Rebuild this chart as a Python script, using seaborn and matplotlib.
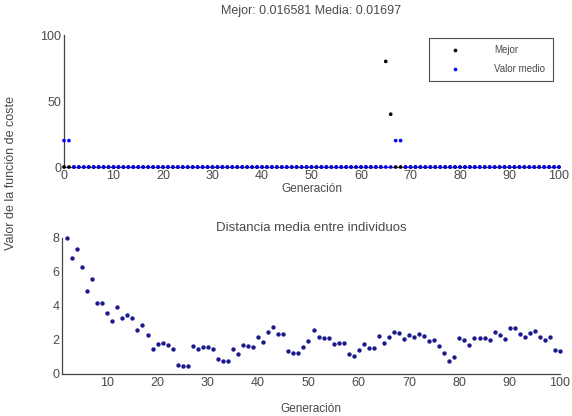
import numpy as np
import pandas as pd
import matplotlib
matplotlib.use("Agg")
import matplotlib.pyplot as plt
import seaborn as sns

# ---- data ----
gen_top = list(range(0, 101))
mejor = [0.0] * 101
mejor[65] = 80.0
mejor[66] = 40.0
valor_medio = [0.0] * 101
valor_medio[0] = 20.0
valor_medio[1] = 20.0
valor_medio[67] = 20.0
valor_medio[68] = 20.0

gen_dist = list(range(2, 101))
distancia = [8.0, 6.84, 7.33, 6.3, 4.9, 5.6, 4.17, 4.17, 3.6, 3.1,
             3.95, 3.28, 3.46, 3.28, 2.57, 2.88, 2.29, 1.48, 1.78, 1.8,
             1.7, 1.48, 0.55, 0.47, 0.47, 1.62, 1.48, 1.58, 1.58, 1.46,
             0.87, 0.75, 0.79, 1.48, 1.19, 1.7, 1.66, 1.58, 2.2, 1.9,
             2.47, 2.77, 2.37, 2.37, 1.34, 1.25, 1.25, 1.6, 1.94, 2.57,
             2.2, 2.13, 2.13, 1.78, 1.82, 1.82, 1.15, 1.03, 1.44, 1.74,
             1.54, 1.54, 2.23, 1.84, 2.17, 2.49, 2.41, 2.07, 2.27, 2.17,
             2.37, 2.25, 1.94, 1.98, 1.64, 1.23, 0.79, 0.99, 2.13, 2.0,
             1.7, 2.13, 2.13, 2.13, 1.98, 2.47, 2.27, 2.06, 2.69, 2.69,
             2.37, 2.17, 2.41, 2.53, 2.17, 1.98, 2.17, 1.44, 1.38]

title_top = "Mejor: 0.016581 Media: 0.01697"
title_bottom = "Distancia media entre individuos"
xlabel = "Generación"
ylabel = "Valor de la función de coste"
series_names = ["Mejor", "Valor medio"]
series_colors = {"Mejor": "black", "Valor medio": "blue"}

df_top = pd.concat([
    pd.DataFrame({"gen": gen_top, "valor": mejor, "serie": "Mejor"}),
    pd.DataFrame({"gen": gen_top, "valor": valor_medio, "serie": "Valor medio"}),
], ignore_index=True)
df_dist = pd.DataFrame({"gen": gen_dist, "dist": distancia})

sns.set_theme(style="white")
plt.rcParams["font.family"] = ["Liberation Sans", "DejaVu Sans"]
txt = "#4a4a4a"

fig = plt.figure(figsize=(5.72, 4.16), dpi=100)
ax1 = fig.add_axes([64 / 572, 1 - 167 / 416, 495 / 572, 132 / 416])
ax2 = fig.add_axes([62 / 572, 1 - 374 / 416, 498 / 572, 136 / 416])

sns.scatterplot(data=df_top, x="gen", y="valor", hue="serie", hue_order=series_names,
                palette=series_colors, marker="o", s=7, linewidth=0, ax=ax1, zorder=3)
sns.scatterplot(data=df_dist, x="gen", y="dist", color="#1a1a8c", marker="o", s=10,
                linewidth=0, ax=ax2, zorder=3)

for ax in (ax1, ax2):
    for side in ("top", "right"):
        ax.spines[side].set_visible(False)
    for side in ("left", "bottom"):
        ax.spines[side].set_color("#444444")
        ax.spines[side].set_linewidth(0.9)
    ax.tick_params(direction="in", length=3, width=0.8, colors="#444444",
                   labelcolor=txt, labelsize=9, pad=2)
    ax.set_ylabel("")
    ax.set_facecolor("white")

ax1.set_xlabel(xlabel, fontsize=8.5, color=txt, labelpad=1)
ax2.set_xlabel(xlabel, fontsize=8.5, color=txt, labelpad=10)

ax1.set_xlim(0, 100)
ax1.set_ylim(0, 100)
ax1.set_xticks(range(0, 101, 10))
ax1.set_yticks([0, 50, 100])
ax1.set_title(title_top, fontsize=9, color=txt, pad=15)

ax2.set_xlim(1, 100)
ax2.set_ylim(0, 8)
ax2.set_xticks(range(10, 101, 10))
ax2.set_yticks(range(0, 9, 2))
ax2.set_title(title_bottom, fontsize=9.5, color=txt, pad=5)

for coll in ax1.collections + ax2.collections:
    coll.set_clip_on(False)

leg = ax1.legend(loc="upper right", bbox_to_anchor=(0.997, 1.015), fontsize=7,
                 frameon=True, fancybox=False, edgecolor="#222222", handletextpad=2.0,
                 borderpad=0.75, labelspacing=0.9, handlelength=4.0, markerscale=1.0)
leg.get_frame().set_linewidth(0.8)
for t in leg.get_texts():
    t.set_color(txt)

fig.text(0.02, 0.585, ylabel, rotation=90, va="center", ha="center",
         fontsize=9, color=txt)

fig.savefig("out.png", dpi=100, facecolor="white")
